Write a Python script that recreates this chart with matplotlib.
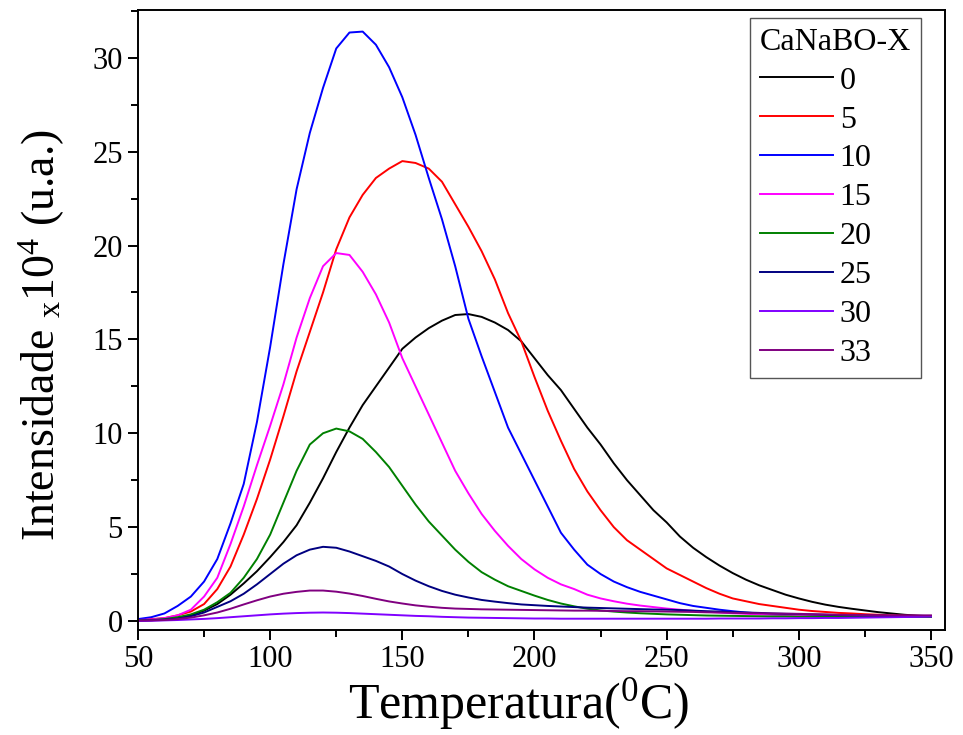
import numpy as np
import matplotlib
matplotlib.use("Agg")
import matplotlib.pyplot as plt
from matplotlib.ticker import MultipleLocator

# --- datos (intensidad x10^4, u.a.) ---
temperatura = np.arange(50, 351, 5)

labels = ["0", "5", "10", "15", "20", "25", "30", "33"]
colores = ["#000000", "#ff0000", "#0000ff", "#ff00ff", "#008000", "#000080", "#8000ff", "#800080"]

x0 = [0.02, 0.04, 0.08, 0.15, 0.3, 0.55, 0.9, 1.4, 2.0, 2.65,
      3.4, 4.2, 5.1, 6.3, 7.6, 9.0, 10.3, 11.5, 12.5, 13.5,
      14.5, 15.1, 15.6, 16.0, 16.3, 16.35, 16.2, 15.9, 15.5, 14.9,
      14.0, 13.1, 12.3, 11.3, 10.3, 9.4, 8.4, 7.5, 6.7, 5.9,
      5.25, 4.5, 3.9, 3.4, 2.95, 2.55, 2.2, 1.9, 1.65, 1.4,
      1.2, 1.02, 0.87, 0.75, 0.65, 0.56, 0.47, 0.4, 0.33, 0.28,
      0.25]
x5 = [0.05, 0.1, 0.15, 0.3, 0.5, 0.9, 1.7, 2.9, 4.6, 6.5,
      8.6, 10.9, 13.3, 15.4, 17.5, 19.8, 21.5, 22.7, 23.6, 24.1,
      24.5, 24.4, 24.1, 23.4, 22.2, 21.0, 19.7, 18.2, 16.4, 14.9,
      13.0, 11.2, 9.6, 8.1, 6.9, 5.9, 5.0, 4.3, 3.8, 3.3,
      2.8, 2.45, 2.1, 1.75, 1.45, 1.2, 1.05, 0.9, 0.8, 0.7,
      0.6, 0.53, 0.48, 0.43, 0.4, 0.36, 0.33, 0.3, 0.28, 0.27,
      0.25]
x10 = [0.1, 0.2, 0.4, 0.8, 1.3, 2.1, 3.3, 5.2, 7.3, 10.6,
       14.6, 19.0, 23.0, 26.0, 28.4, 30.5, 31.35, 31.4, 30.7, 29.5,
       27.9, 25.9, 23.6, 21.4, 18.9, 16.1, 14.1, 12.2, 10.3, 8.9,
       7.5, 6.1, 4.7, 3.8, 3.0, 2.5, 2.1, 1.8, 1.55, 1.35,
       1.15, 0.95, 0.8, 0.7, 0.6, 0.52, 0.45, 0.4, 0.36, 0.33,
       0.3, 0.28, 0.27, 0.26, 0.25, 0.25, 0.25, 0.25, 0.25, 0.25,
       0.25]
x15 = [0.05, 0.08, 0.15, 0.3, 0.6, 1.3, 2.3, 4.1, 6.1, 8.3,
       10.4, 12.6, 15.1, 17.2, 18.9, 19.6, 19.5, 18.6, 17.4, 15.9,
       14.0, 12.5, 11.0, 9.5, 8.0, 6.8, 5.7, 4.8, 4.0, 3.3,
       2.75, 2.3, 1.95, 1.7, 1.4, 1.2, 1.05, 0.92, 0.82, 0.74,
       0.66, 0.6, 0.54, 0.49, 0.45, 0.41, 0.38, 0.35, 0.33, 0.31,
       0.3, 0.28, 0.27, 0.26, 0.25, 0.24, 0.24, 0.23, 0.23, 0.23,
       0.23]
x20 = [0.03, 0.05, 0.1, 0.2, 0.35, 0.6, 1.0, 1.5, 2.3, 3.3,
       4.6, 6.3, 8.0, 9.4, 10.0, 10.25, 10.1, 9.7, 9.0, 8.2,
       7.2, 6.2, 5.3, 4.55, 3.8, 3.15, 2.6, 2.2, 1.85, 1.6,
       1.35, 1.12, 0.93, 0.78, 0.65, 0.56, 0.5, 0.45, 0.41, 0.38,
       0.35, 0.33, 0.31, 0.29, 0.28, 0.27, 0.26, 0.25, 0.24, 0.24,
       0.23, 0.23, 0.22, 0.22, 0.22, 0.22, 0.22, 0.22, 0.22, 0.22,
       0.22]
x25 = [0.02, 0.04, 0.07, 0.12, 0.25, 0.45, 0.75, 1.05, 1.45, 1.95,
       2.5, 3.05, 3.5, 3.8, 3.95, 3.9, 3.7, 3.45, 3.2, 2.9,
       2.5, 2.15, 1.85, 1.6, 1.4, 1.25, 1.12, 1.03, 0.95, 0.88,
       0.84, 0.8, 0.77, 0.74, 0.71, 0.69, 0.67, 0.65, 0.63, 0.61,
       0.6, 0.58, 0.55, 0.52, 0.5, 0.47, 0.45, 0.43, 0.4, 0.38,
       0.37, 0.35, 0.33, 0.31, 0.3, 0.29, 0.28, 0.27, 0.26, 0.25,
       0.25]
x30 = [0.0, 0.01, 0.03, 0.05, 0.08, 0.11, 0.15, 0.2, 0.25, 0.3,
       0.35, 0.39, 0.42, 0.44, 0.45, 0.44, 0.42, 0.39, 0.36, 0.33,
       0.3, 0.27, 0.25, 0.22, 0.2, 0.18, 0.17, 0.16, 0.15, 0.14,
       0.13, 0.13, 0.12, 0.12, 0.12, 0.12, 0.12, 0.12, 0.12, 0.12,
       0.12, 0.12, 0.12, 0.12, 0.13, 0.13, 0.13, 0.13, 0.14, 0.14,
       0.15, 0.15, 0.16, 0.16, 0.17, 0.18, 0.19, 0.2, 0.21, 0.22,
       0.24]
x33 = [0.02, 0.03, 0.05, 0.1, 0.18, 0.3, 0.45, 0.65, 0.88, 1.1,
       1.3, 1.45, 1.55, 1.62, 1.62, 1.56, 1.46, 1.33, 1.18, 1.04,
       0.93, 0.83, 0.76, 0.7, 0.66, 0.64, 0.62, 0.61, 0.6, 0.59,
       0.58, 0.57, 0.56, 0.55, 0.55, 0.54, 0.53, 0.52, 0.52, 0.51,
       0.5, 0.49, 0.48, 0.46, 0.45, 0.43, 0.42, 0.41, 0.4, 0.39,
       0.38, 0.36, 0.35, 0.33, 0.32, 0.31, 0.3, 0.3, 0.3, 0.3,
       0.3]

series = [x0, x5, x10, x15, x20, x25, x30, x33]

# --- estilo ---
plt.rcParams['font.family'] = ['Liberation Serif', 'DejaVu Serif']
plt.rcParams['mathtext.fontset'] = 'custom'
plt.rcParams['mathtext.rm'] = 'Liberation Serif'
plt.rcParams['mathtext.it'] = 'Liberation Serif:italic'

fig = plt.figure(figsize=(9.63, 7.35), dpi=100)
ax = fig.add_axes([0.1433, 0.1429, 0.838, 0.8435])

for y, lab, c in zip(series, labels, colores):
    ax.plot(temperatura, y, color=c, lw=1.4, label=lab, solid_joinstyle='round')

ax.set_xlim(50, 355.3)
ax.set_ylim(-0.48, 32.55)
ax.xaxis.set_major_locator(MultipleLocator(50))
ax.xaxis.set_minor_locator(MultipleLocator(25))
ax.yaxis.set_major_locator(MultipleLocator(5))
ax.yaxis.set_minor_locator(MultipleLocator(2.5))
ax.tick_params(which='major', direction='out', length=7, width=1.4, labelsize=22, pad=4)
ax.tick_params(which='minor', direction='out', length=5, width=1.4)
for s in ax.spines.values():
    s.set_linewidth(1.4)

ax.set_xlabel(r'Temperatura($^{0}$C)', fontsize=36)
ax.xaxis.set_label_coords(0.472, -0.075)
ax.set_ylabel(r'Intensidade $_{\mathrm{x}}$10$^{4}$ (u.a.)', fontsize=33)
ax.yaxis.set_label_coords(-0.088, 0.475)

leg = ax.legend(title='CaNaBO-X', loc='upper right', bbox_to_anchor=(0.970, 0.987),
                borderaxespad=0, fontsize=23, title_fontsize=23, handlelength=2.3,
                handletextpad=0.2, labelspacing=0.3, borderpad=0.3,
                fancybox=False, framealpha=1, edgecolor='#555555',
                alignment='left')
leg.get_frame().set_linewidth(1.0)

fig.savefig('out.png', dpi=100)
